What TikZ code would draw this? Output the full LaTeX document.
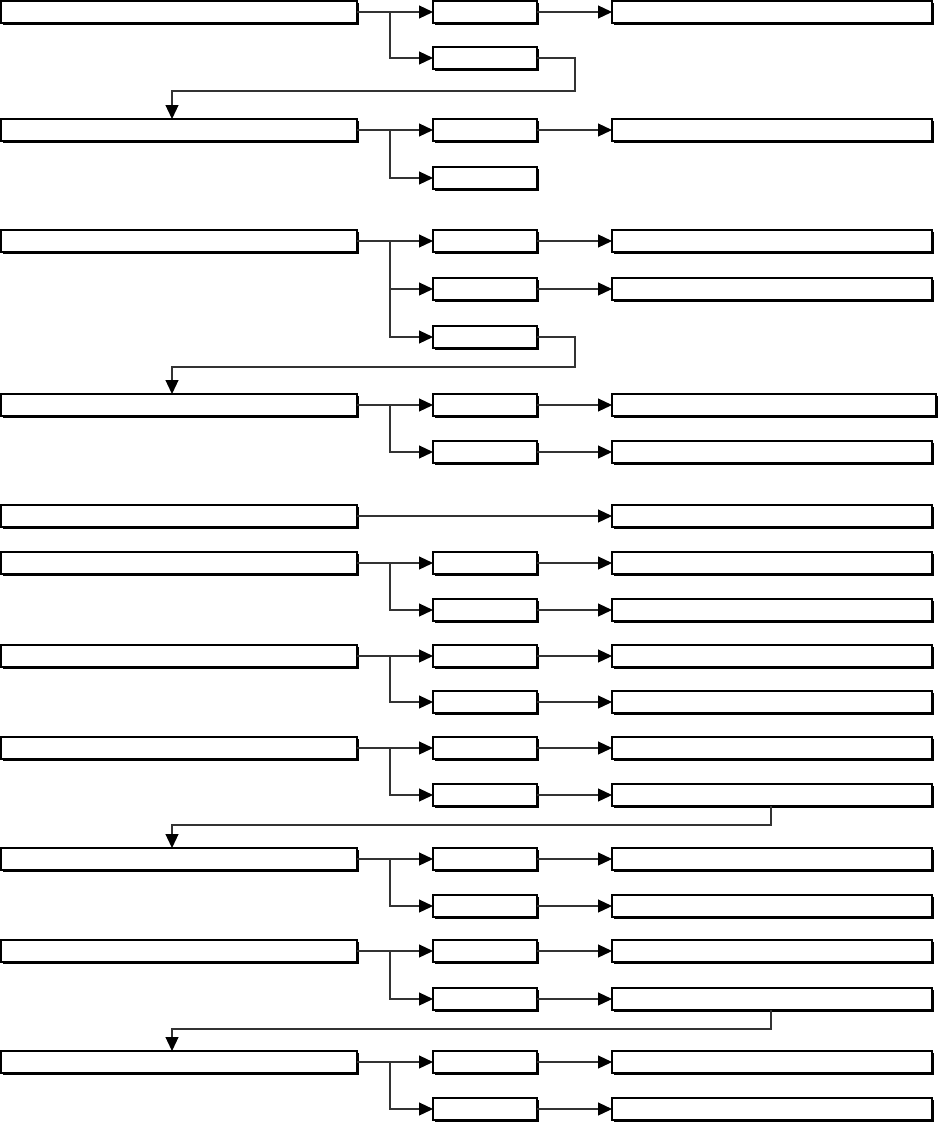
\documentclass[tikz,border=0pt]{standalone}
\usetikzlibrary{arrows.meta,shadows}
\begin{document}
\begin{tikzpicture}[x=1pt,y=-1pt,
  box/.style={draw=black,line width=1.1pt,fill=white,inner sep=0pt,outer sep=0pt,minimum height=22pt,
    drop shadow={shadow xshift=1.6pt,shadow yshift=-1.6pt,opacity=1,fill=black}},
  lbox/.style={box,minimum width=356pt},
  mbox/.style={box,minimum width=104pt},
  rbox/.style={box,minimum width=320pt},
  arr/.style={draw=black!80,line width=1.2pt,-{Triangle[length=14pt,width=13pt,fill=black,color=black]}}]
\useasboundingbox (0,0) rectangle (938,1122);

% Row A
\node[lbox] (A) at (179,12) {};
\node[mbox] (A1) at (485,12) {};
\node[rbox] (Ar) at (772,12) {};
\node[mbox] (A2) at (485,58) {};
% Row B
\node[lbox] (B) at (179,130) {};
\node[mbox] (B1) at (485,130) {};
\node[rbox] (Br) at (772,130) {};
\node[mbox] (B2) at (485,178) {};
% Row C
\node[lbox] (C) at (179,241) {};
\node[mbox] (C1) at (485,241) {};
\node[rbox] (Cr1) at (772,241) {};
\node[mbox] (C2) at (485,289) {};
\node[rbox] (Cr2) at (772,289) {};
\node[mbox] (C3) at (485,337) {};
% Row D
\node[lbox] (D) at (179,405) {};
\node[mbox] (D1) at (485,405) {};
\node[box,minimum width=324pt] (Dr1) at (774,405) {};
\node[mbox] (D2) at (485,452) {};
\node[rbox] (Dr2) at (772,452) {};
% Row E
\node[lbox] (E) at (179,516) {};
\node[rbox] (Er) at (772,516) {};
% Row F
\node[lbox] (F) at (179,563) {};
\node[mbox] (F1) at (485,563) {};
\node[rbox] (Fr1) at (772,563) {};
\node[mbox] (F2) at (485,610) {};
\node[rbox] (Fr2) at (772,610) {};
% Row G
\node[lbox] (G) at (179,656) {};
\node[mbox] (G1) at (485,656) {};
\node[rbox] (Gr1) at (772,656) {};
\node[mbox] (G2) at (485,702) {};
\node[rbox] (Gr2) at (772,702) {};
% Row H
\node[lbox] (H) at (179,748) {};
\node[mbox] (H1) at (485,748) {};
\node[rbox] (Hr1) at (772,748) {};
\node[mbox] (H2) at (485,795) {};
\node[rbox] (Hr2) at (772,795) {};
% Row I
\node[lbox] (I) at (179,859) {};
\node[mbox] (I1) at (485,859) {};
\node[rbox] (Ir1) at (772,859) {};
\node[mbox] (I2) at (485,906) {};
\node[rbox] (Ir2) at (772,906) {};
% Row J
\node[lbox] (J) at (179,951) {};
\node[mbox] (J1) at (485,951) {};
\node[rbox] (Jr1) at (772,951) {};
\node[mbox] (J2) at (485,999) {};
\node[rbox] (Jr2) at (772,999) {};
% Row K
\node[lbox] (K) at (179,1062) {};
\node[mbox] (K1) at (485,1062) {};
\node[rbox] (Kr1) at (772,1062) {};
\node[mbox] (K2) at (485,1109) {};
\node[rbox] (Kr2) at (772,1109) {};

% connectors
\foreach \r in {A,B,C,D,F,G,H,I,J,K}{
  \draw[arr] (\r) -- (\r1);
  \draw[arr] (\r.east) -- ++(33,0) |- (\r2.west);
}
\draw[arr] (C.east) -- ++(33,0) |- (C3.west);
\draw[arr] (A1) -- (Ar);
\draw[arr] (B1) -- (Br);
\foreach \r in {C,D,F,G,H,I,J,K}{
  \draw[arr] (\r1) -- (\r r1);
  \draw[arr] (\r2) -- (\r r2);
}
\draw[arr] (E) -- (Er);
% loops
\draw[arr] (A2.east) -| (575,91) -| ([xshift=-7pt]B.north);
\draw[arr] (C3.east) -| (575,367) -| ([xshift=-7pt]D.north);
\draw[arr] ([xshift=-1pt]Hr2.south) -- ++(0,19) -| ([xshift=-7pt]I.north);
\draw[arr] ([xshift=-1pt]Jr2.south) -- ++(0,19) -| ([xshift=-7pt]K.north);
\end{tikzpicture}
\end{document}
